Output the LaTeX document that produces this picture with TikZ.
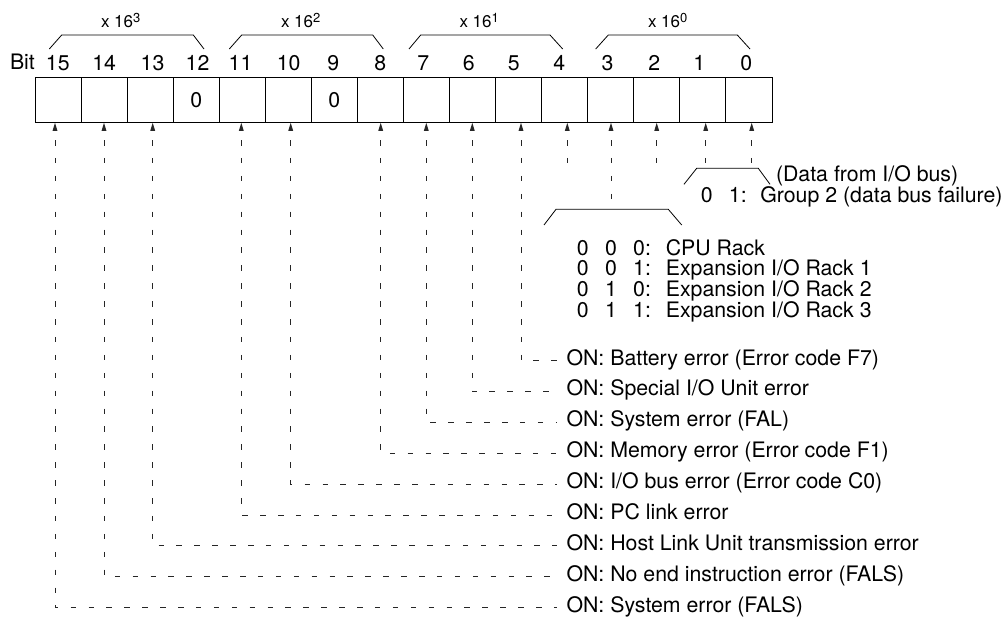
\documentclass[tikz,border=0pt]{standalone}
\usepackage{fontspec}
\setmainfont{TeX Gyre Heros}
\usetikzlibrary{arrows.meta,calc}
\newcommand{\supx}[1]{\raisebox{5pt}{\fontsize{13}{13}\selectfont #1}}
\begin{document}
\begin{tikzpicture}[x=1pt,y=-1pt,
  every node/.style={inner sep=0pt, outer sep=0pt, font=\fontsize{21.3}{25}\selectfont},
  cell/.style={draw, line width=1pt, minimum width=46.0625pt, minimum height=45.3pt},
  conn/.style={line width=0.9pt, black!85, dash pattern=on 5.5pt off 12.4pt, dash phase=8.4pt,
               {Triangle[length=8pt,width=4.6pt]}-},
  brace/.style={line width=0.8pt},
  lab/.style={anchor=west, inner xsep=9.5pt, text height=0.9em, text depth=0pt},
  bitnum/.style={anchor=base},
  mult/.style={anchor=base west, font=\fontsize{17}{20}\selectfont},
  code/.style={anchor=base west},
]
\useasboundingbox (0,0) rectangle (1005,624);

% register cells
\foreach \k in {0,...,15}
  \node[cell] (c\k) at ({35+(15-\k)*46.0625+23.03125}, 99.65) {};
\node (z12) at (c12) {0};
\node (z9) at (c9) {0};

% bit numbers
\node[anchor=base west] (bitlbl) at (10,69) {Bit};
\foreach \k/\x in {15/57.8,14/104.2,13/152.5,12/197.5,11/240.5,10/288.7,9/333.3,8/380.3,
                   7/423.3,6/468.7,5/513.8,4/559.2,3/607.5,2/654.2,1/699.2,0/746.2}
  \node[bitnum] (n\k) at (\x,70.5) {\k};

% multiplier brackets
\draw[brace] (49.3,49) -- (61.7,35) -- (193.3,35) -- (204,49);
\draw[brace] (229.3,49) -- (241.7,35) -- (372.7,35) -- (383.3,49);
\draw[brace] (409,49) -- (420.7,35) -- (550,35) -- (562.7,49);
\draw[brace] (595.7,49) -- (608.3,35) -- (737.3,35) -- (750,49);
\node[mult] (m3) at (101,27.3) {x 16\supx{3}};
\node[mult] (m2) at (281,27.3) {x 16\supx{2}};
\node[mult] (m1) at (459.5,27.3) {x 16\supx{1}};
\node[mult] (m0) at (648,27.3) {x 16\supx{0}};

% arrow tips under the register
\foreach \k/\x in {15/55,14/104,13/152.7,11/241.3,10/290.7,8/380.7,7/426.3,6/472.3,
                   5/521,4/567.3,3/611,2/656.7,1/705.7,0/751.7}
  \coordinate (t\k) at (\x,122.8);

% ON labels
\node[lab] (l5)  at (557,360.5) {ON: Battery error (Error code F7)};
\node[lab] (l6)  at (557,391.4) {ON: Special I/O Unit error};
\node[lab] (l7)  at (557,422.3) {ON: System error (FAL)};
\node[lab] (l8)  at (557,453.2) {ON: Memory error (Error code F1)};
\node[lab] (l10) at (557,484.1) {ON: I/O bus error (Error code C0)};
\node[lab] (l11) at (557,515.0) {ON: PC link error};
\node[lab] (l13) at (557,545.9) {ON: Host Link Unit transmission error};
\node[lab] (l14) at (557,576.8) {ON: No end instruction error (FALS)};
\node[lab] (l15) at (557,607.7) {ON: System error (FALS)};

\foreach \k in {5,6,7,8,10,11,13,14,15}
  \draw[conn] (t\k) |- (l\k.west);

% short stubs (bits 4, 3, 2)
\coordinate (e4) at (567.3,164);
\coordinate (e2) at (656.7,164);
\coordinate (e3) at (611,199.5);
\draw[conn] (t4) -- (e4);
\draw[conn] (t2) -- (e2);
\draw[conn] (t3) -- (e3);

% bits 1,0 bracket
\draw[brace] (684,184.3) -- (696.7,168.3) -- (758.3,168.3) -- (770,184.3);
\coordinate (b1) at (705.7,168.3);
\coordinate (b0) at (751.7,168.3);
\draw[conn] (t1) -- (b1);
\draw[conn] (t0) -- (b0);
\node[code] (d1) at (776,181.5) {(Data from I/O bus)};
\node[code] (d2) at (700.8,202) {0\hspace{16.3pt}1:\hspace{13.6pt}Group 2 (data bus failure)};

% rack bracket and codes
\draw[brace] (544,225) -- (556,209.3) -- (668.3,209.3) -- (681.7,225);
\node[code] (r0) at (576.8,255.0) {0\hspace{16.5pt}0\hspace{16.2pt}0:\hspace{14.9pt}CPU Rack};
\node[code] (r1) at (576.8,275.7) {0\hspace{16.5pt}0\hspace{16.2pt}1:\hspace{14.9pt}Expansion I/O Rack 1};
\node[code] (r2) at (576.8,296.3) {0\hspace{16.5pt}1\hspace{16.2pt}0:\hspace{14.9pt}Expansion I/O Rack 2};
\node[code] (r3) at (576.8,317.0) {0\hspace{16.5pt}1\hspace{16.2pt}1:\hspace{14.9pt}Expansion I/O Rack 3};
\end{tikzpicture}
\end{document}
